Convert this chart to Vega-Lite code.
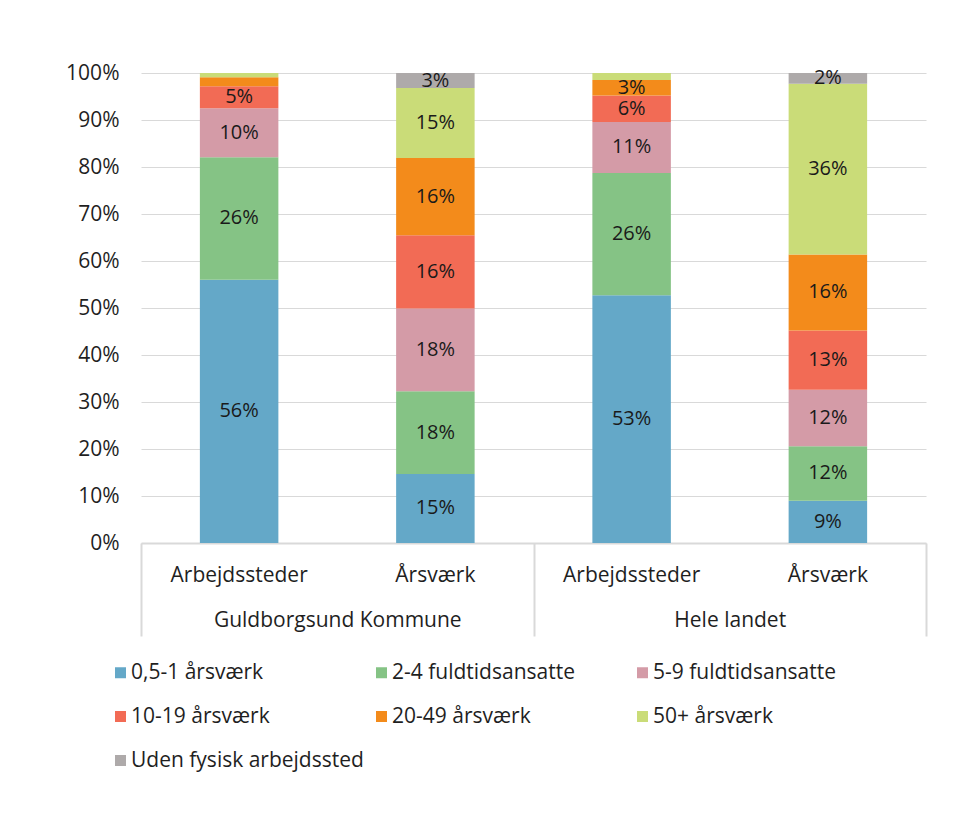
{
  "$schema": "https://vega.github.io/schema/vega-lite/v6.json",
  "width": 785,
  "height": 470,
  "autosize": {"type": "none"},
  "padding": {"left": 141, "top": 73, "right": 54, "bottom": 287},
  "background": "white",
  "config": {
    "font": "Open Sans",
    "view": {"stroke": null},
    "axis": {"labelColor": "#1f1f1f", "labelFontSize": 21, "labelFont": "Open Sans", "labelLimit": 400},
    "legend": {"labelColor": "#1f1f1f", "labelFont": "Open Sans"}
  },
  "data": {
    "values": [
      {"group": "Guldborgsund Kommune", "bar": "Guldborgsund Kommune|Arbejdssteder", "category": "0,5-1 årsværk", "k": 1, "value": 0.560},
      {"group": "Guldborgsund Kommune", "bar": "Guldborgsund Kommune|Arbejdssteder", "category": "2-4 fuldtidsansatte", "k": 2, "value": 0.261},
      {"group": "Guldborgsund Kommune", "bar": "Guldborgsund Kommune|Arbejdssteder", "category": "5-9 fuldtidsansatte", "k": 3, "value": 0.104},
      {"group": "Guldborgsund Kommune", "bar": "Guldborgsund Kommune|Arbejdssteder", "category": "10-19 årsværk", "k": 4, "value": 0.047},
      {"group": "Guldborgsund Kommune", "bar": "Guldborgsund Kommune|Arbejdssteder", "category": "20-49 årsværk", "k": 5, "value": 0.019},
      {"group": "Guldborgsund Kommune", "bar": "Guldborgsund Kommune|Arbejdssteder", "category": "50+ årsværk", "k": 6, "value": 0.009},
      {"group": "Guldborgsund Kommune", "bar": "Guldborgsund Kommune|Arbejdssteder", "category": "Uden fysisk arbejdssted", "k": 7, "value": 0.0},
      {"group": "Guldborgsund Kommune", "bar": "Guldborgsund Kommune|Årsværk", "category": "0,5-1 årsværk", "k": 1, "value": 0.147},
      {"group": "Guldborgsund Kommune", "bar": "Guldborgsund Kommune|Årsværk", "category": "2-4 fuldtidsansatte", "k": 2, "value": 0.176},
      {"group": "Guldborgsund Kommune", "bar": "Guldborgsund Kommune|Årsværk", "category": "5-9 fuldtidsansatte", "k": 3, "value": 0.176},
      {"group": "Guldborgsund Kommune", "bar": "Guldborgsund Kommune|Årsværk", "category": "10-19 årsværk", "k": 4, "value": 0.156},
      {"group": "Guldborgsund Kommune", "bar": "Guldborgsund Kommune|Årsværk", "category": "20-49 årsværk", "k": 5, "value": 0.164},
      {"group": "Guldborgsund Kommune", "bar": "Guldborgsund Kommune|Årsværk", "category": "50+ årsværk", "k": 6, "value": 0.149},
      {"group": "Guldborgsund Kommune", "bar": "Guldborgsund Kommune|Årsværk", "category": "Uden fysisk arbejdssted", "k": 7, "value": 0.032},
      {"group": "Hele landet", "bar": "Hele landet|Arbejdssteder", "category": "0,5-1 årsværk", "k": 1, "value": 0.527},
      {"group": "Hele landet", "bar": "Hele landet|Arbejdssteder", "category": "2-4 fuldtidsansatte", "k": 2, "value": 0.260},
      {"group": "Hele landet", "bar": "Hele landet|Arbejdssteder", "category": "5-9 fuldtidsansatte", "k": 3, "value": 0.109},
      {"group": "Hele landet", "bar": "Hele landet|Arbejdssteder", "category": "10-19 årsværk", "k": 4, "value": 0.056},
      {"group": "Hele landet", "bar": "Hele landet|Arbejdssteder", "category": "20-49 årsværk", "k": 5, "value": 0.033},
      {"group": "Hele landet", "bar": "Hele landet|Arbejdssteder", "category": "50+ årsværk", "k": 6, "value": 0.015},
      {"group": "Hele landet", "bar": "Hele landet|Arbejdssteder", "category": "Uden fysisk arbejdssted", "k": 7, "value": 0.0},
      {"group": "Hele landet", "bar": "Hele landet|Årsværk", "category": "0,5-1 årsværk", "k": 1, "value": 0.090},
      {"group": "Hele landet", "bar": "Hele landet|Årsværk", "category": "2-4 fuldtidsansatte", "k": 2, "value": 0.116},
      {"group": "Hele landet", "bar": "Hele landet|Årsværk", "category": "5-9 fuldtidsansatte", "k": 3, "value": 0.120},
      {"group": "Hele landet", "bar": "Hele landet|Årsværk", "category": "10-19 årsværk", "k": 4, "value": 0.126},
      {"group": "Hele landet", "bar": "Hele landet|Årsværk", "category": "20-49 årsværk", "k": 5, "value": 0.162},
      {"group": "Hele landet", "bar": "Hele landet|Årsværk", "category": "50+ årsværk", "k": 6, "value": 0.363},
      {"group": "Hele landet", "bar": "Hele landet|Årsværk", "category": "Uden fysisk arbejdssted", "k": 7, "value": 0.023}
    ]
  },
  "layer": [
    {
      "layer": [
        {
          "mark": {"type": "bar"},
          "encoding": {
            "x": {
              "field": "bar", "type": "nominal", "sort": null,
              "scale": {"paddingInner": 0.6, "paddingOuter": 0.3},
              "axis": {
                "orient": "bottom", "title": null, "labelAngle": 0,
                "labelExpr": "split(datum.label, '|')[1]",
                "ticks": false, "domain": true, "domainColor": "#d9d9d9", "domainWidth": 2,
                "labelPadding": 21, "grid": false
              }
            },
            "y": {
              "field": "value", "type": "quantitative", "stack": "zero",
              "scale": {"domain": [0, 1]},
              "axis": {
                "title": null, "values": [0, 0.1, 0.2, 0.3, 0.4, 0.5, 0.6, 0.7, 0.8, 0.9, 1],
                "format": ".0%", "domain": false, "ticks": false,
                "gridColor": "#d9d9d9", "gridWidth": 1, "labelPadding": 22
              }
            },
            "color": {
              "field": "category", "type": "nominal",
              "scale": {
                "domain": ["0,5-1 årsværk", "2-4 fuldtidsansatte", "5-9 fuldtidsansatte", "10-19 årsværk", "20-49 årsværk", "50+ årsværk", "Uden fysisk arbejdssted"],
                "range": ["#64A8C8", "#85C385", "#D49BA7", "#F26B55", "#F38B1B", "#CADC78", "#AEAAAA"]
              },
              "legend": {
                "title": null, "orient": "none", "legendX": -31, "legendY": 589,
                "direction": "horizontal", "columns": 3, "gridAlign": "all",
                "columnPadding": 7, "rowPadding": 22,
                "symbolType": "square", "symbolSize": 121, "symbolStrokeWidth": 0,
                "labelFontSize": 21, "labelOffset": 0, "labelLimit": 400
              }
            },
            "order": {"field": "k", "type": "quantitative"}
          }
        },
        {
          "mark": {"type": "text", "fontSize": 20, "color": "#1a1a1a"},
          "encoding": {
            "x": {"field": "bar", "type": "nominal", "sort": null},
            "y": {"field": "value", "type": "quantitative", "stack": "zero", "bandPosition": 0.5},
            "detail": {"field": "category", "type": "nominal"},
            "order": {"field": "k", "type": "quantitative"},
            "text": {
              "condition": {"test": "datum.value < 0.02", "value": ""},
              "field": "value", "type": "quantitative", "format": ".0%"
            }
          }
        }
      ]
    },
    {
      "mark": {"type": "rule", "strokeOpacity": 0},
      "encoding": {
        "x": {
          "field": "group", "type": "nominal", "sort": null,
          "scale": {"paddingInner": 0, "paddingOuter": 0},
          "axis": {
            "orient": "bottom", "title": null, "labelAngle": 0,
            "tickBand": "extent", "ticks": true, "tickSize": 93,
            "tickColor": "#d9d9d9", "tickWidth": 2, "domain": false,
            "labelPadding": -27, "grid": false
          }
        }
      }
    }
  ],
  "resolve": {"scale": {"x": "independent"}, "axis": {"x": "independent"}}
}
